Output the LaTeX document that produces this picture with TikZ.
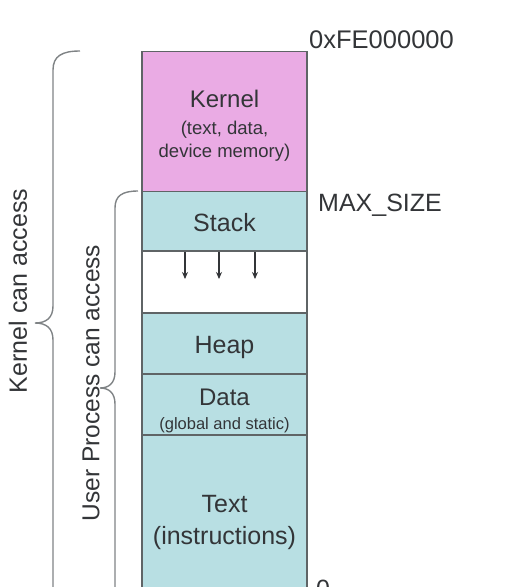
\documentclass[tikz,border=0pt]{standalone}
\usepackage{fontspec}
\setmainfont{Liberation Sans}
\usetikzlibrary{arrows.meta}
\definecolor{kpink}{HTML}{EAABE4}
\definecolor{uteal}{HTML}{B8DFE3}
\definecolor{edge}{HTML}{5F6466}
\definecolor{ink}{HTML}{333538}
\tikzset{
  seg/.style={draw=edge, line width=1.3pt, fill=uteal, minimum width=165pt, inner sep=0pt, text=ink, align=center},
  lbl/.style={text=ink, inner sep=0pt, font=\fontsize{25}{28}\selectfont},
  brc/.style={draw=edge!80, line width=1.4pt},
  growarrow/.style={draw=ink, line width=1.1pt, -{Stealth[length=7pt,width=6pt]}}
}
\begin{document}
\begin{tikzpicture}[x=1pt,y=-1pt]
\useasboundingbox (0,0) rectangle (525,587);
\node[seg, fill=kpink, minimum height=140pt, font=\fontsize{18.5}{23}\selectfont] (kernel) at (224.5,121.5)
  {{\fontsize{24}{28}\selectfont\rule{0pt}{25.5pt}Kernel}\\[4pt](text, data,\\device memory)};
\node[seg, minimum height=59.5pt, font=\fontsize{25}{28}\selectfont] (stack) at (224.5,221.25) {\rule{0pt}{20pt}Stack};
\node[seg, fill=white, minimum height=62pt] (free) at (224.5,282) {};
\node[seg, minimum height=61pt, font=\fontsize{25}{28}\selectfont] (heap) at (224.5,343.5) {\rule{0pt}{26pt}Heap};
\node[seg, minimum height=61pt, font=\fontsize{16.5}{20}\selectfont] (data) at (224.5,404.5)
  {{\fontsize{24}{28}\selectfont\rule{0pt}{28.5pt}Data}\\[4pt](global and static)};
\node[seg, minimum height=168pt, font=\fontsize{25}{32}\selectfont] (text) at (224.5,519)
  {\rule{0pt}{24.5pt}Text\\(instructions)};
% growth arrows
\coordinate (a1s) at (185,252); \coordinate (a1e) at (185,279);
\coordinate (a2s) at (219,252); \coordinate (a2e) at (219,279);
\coordinate (a3s) at (255,252); \coordinate (a3e) at (255,279);
\draw[growarrow] (a1s) -- (a1e);
\draw[growarrow] (a2s) -- (a2e);
\draw[growarrow] (a3s) -- (a3e);
% address labels
\node[lbl, anchor=west, font=\fontsize{25.5}{28}\selectfont] (top) at (309,40) {0xFE000000};
\node[lbl, anchor=west] (max) at (318,205) {MAX\_SIZE};
\node[lbl, anchor=north west] (zero) at (316,580) {0};
% braces
\draw[brc] (80,51) .. controls (62,51) and (53,56) .. (53,70) -- (53,306)
  .. controls (53,318) and (46,323) .. (35,323)
  .. controls (46,323) and (53,328) .. (53,340) -- (53,600);
\draw[brc] (138,191) .. controls (122,191) and (115,196) .. (115,208) -- (115,372)
  .. controls (115,383) and (109,388) .. (100,388)
  .. controls (109,388) and (115,393) .. (115,404) -- (115,600);
\node[lbl, rotate=90] (kacc) at (18,291) {Kernel can access};
\node[lbl, rotate=90, font=\fontsize{24.5}{28}\selectfont] (uacc) at (91,383) {User Process can access};
\end{tikzpicture}
\end{document}
